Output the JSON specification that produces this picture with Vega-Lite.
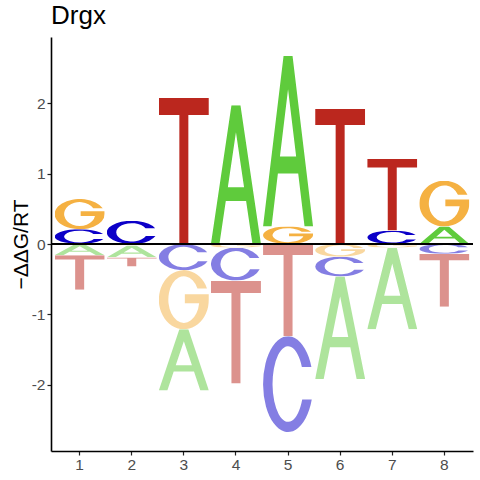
{
  "$schema": "https://vega.github.io/schema/vega-lite/v6.json",
  "width": 422,
  "height": 414,
  "autosize": {"type": "none"},
  "padding": {"left": 51, "top": 37, "right": 7, "bottom": 29},
  "background": "white",
  "config": {"view": {"stroke": null}},
  "title": {"text": "Drgx", "anchor": "start", "frame": "group", "fontSize": 26, "font": "Liberation Sans", "fontWeight": "normal", "color": "black", "offset": 8},
  "datasets": {
    "logo": [
      {"pos": 1, "letter": "C", "lo": 0, "hi": 0.21},
      {"pos": 1, "letter": "G", "lo": 0.21, "hi": 0.64},
      {"pos": 1, "letter": "A", "lo": -0.16, "hi": 0},
      {"pos": 1, "letter": "T", "lo": -0.65, "hi": -0.16},
      {"pos": 2, "letter": "C", "lo": 0, "hi": 0.33},
      {"pos": 2, "letter": "G", "lo": -0.02, "hi": 0},
      {"pos": 2, "letter": "A", "lo": -0.19, "hi": -0.02},
      {"pos": 2, "letter": "T", "lo": -0.32, "hi": -0.19},
      {"pos": 3, "letter": "T", "lo": 0, "hi": 2.08},
      {"pos": 3, "letter": "C", "lo": -0.37, "hi": 0},
      {"pos": 3, "letter": "G", "lo": -1.21, "hi": -0.37},
      {"pos": 3, "letter": "A", "lo": -2.08, "hi": -1.21},
      {"pos": 4, "letter": "A", "lo": 0, "hi": 1.97},
      {"pos": 4, "letter": "G", "lo": -0.05, "hi": 0},
      {"pos": 4, "letter": "C", "lo": -0.52, "hi": -0.05},
      {"pos": 4, "letter": "T", "lo": -1.98, "hi": -0.52},
      {"pos": 5, "letter": "G", "lo": 0, "hi": 0.25},
      {"pos": 5, "letter": "A", "lo": 0.25, "hi": 2.67},
      {"pos": 5, "letter": "T", "lo": -1.31, "hi": 0},
      {"pos": 5, "letter": "C", "lo": -2.67, "hi": -1.31},
      {"pos": 6, "letter": "T", "lo": 0, "hi": 1.92},
      {"pos": 6, "letter": "G", "lo": -0.18, "hi": 0},
      {"pos": 6, "letter": "C", "lo": -0.46, "hi": -0.18},
      {"pos": 6, "letter": "A", "lo": -1.92, "hi": -0.46},
      {"pos": 7, "letter": "C", "lo": 0, "hi": 0.19},
      {"pos": 7, "letter": "T", "lo": 0.19, "hi": 1.21},
      {"pos": 7, "letter": "G", "lo": -0.05, "hi": 0},
      {"pos": 7, "letter": "A", "lo": -1.21, "hi": -0.05},
      {"pos": 8, "letter": "A", "lo": 0, "hi": 0.25},
      {"pos": 8, "letter": "G", "lo": 0.25, "hi": 0.9},
      {"pos": 8, "letter": "C", "lo": -0.14, "hi": 0},
      {"pos": 8, "letter": "T", "lo": -0.89, "hi": -0.14}
    ],
    "glyphs": [
      {"letter": "A", "url": "data:image/svg+xml,<svg xmlns='http://www.w3.org/2000/svg' viewBox='0 0 100 100' preserveAspectRatio='none'><path fill='%235FCB3C' fill-rule='evenodd' d='M0 100L41 0H59L100 100H83L70.3 69H29.7L17 100ZM33.8 59H66.2L50 19.5Z'/></svg>"},
      {"letter": "C", "url": "data:image/svg+xml,<svg xmlns='http://www.w3.org/2000/svg' viewBox='0 0 100 100' preserveAspectRatio='none'><path fill='%230C00C8' d='M96.7 32A50 50 0 1 0 97.4 66H78.3A31 39.5 0 1 1 77.6 32Z'/></svg>"},
      {"letter": "G", "url": "data:image/svg+xml,<svg xmlns='http://www.w3.org/2000/svg' viewBox='0 0 100 100' preserveAspectRatio='none'><path fill='%23F5B142' d='M96.2 31A50 50 0 1 0 100 50V41H52V56H80.6A31 39.5 0 1 1 77.2 31Z'/></svg>"},
      {"letter": "T", "url": "data:image/svg+xml,<svg xmlns='http://www.w3.org/2000/svg' viewBox='0 0 100 100' preserveAspectRatio='none'><path fill='%23BB271E' d='M0 0H100V12H59V100H41V12H0Z'/></svg>"}
    ]
  },
  "data": {"name": "logo"},
  "transform": [
    {"lookup": "letter", "from": {"data": {"name": "glyphs"}, "key": "letter", "fields": ["url"]}}
  ],
  "layer": [
    {
      "mark": {"type": "image", "aspect": false},
      "encoding": {
        "x": {
          "field": "pos", "type": "ordinal",
          "scale": {"paddingInner": 0.04, "paddingOuter": 0.07},
          "axis": {"title": null, "labelAngle": 0, "labelFontSize": 15.5, "labelColor": "#4D4D4D", "labelFont": "Liberation Sans", "labelPadding": 2, "tickColor": "#222222", "tickSize": 4, "tickWidth": 1.2, "domainColor": "black", "domainWidth": 1.6, "grid": false}
        },
        "y": {
          "field": "lo", "type": "quantitative",
          "scale": {"domain": [-2.94, 2.94], "nice": false, "zero": false},
          "axis": {"values": [-2, -1, 0, 1, 2], "format": "d", "labelExpr": "replace(datum.label, '−', '-')", "title": "−ΔΔG/RT", "titleFontSize": 21, "titleFont": "Liberation Sans", "titleFontWeight": "normal", "titleColor": "black", "titlePadding": 0, "labelFontSize": 15.5, "labelColor": "#4D4D4D", "labelFont": "Liberation Sans", "labelPadding": 2, "tickColor": "#222222", "tickSize": 4, "tickWidth": 1.2, "domainColor": "black", "domainWidth": 1.6, "grid": false}
        },
        "y2": {"field": "hi"},
        "url": {"field": "url", "type": "nominal"},
        "opacity": {"condition": {"test": "datum.hi <= 0", "value": 0.5}, "value": 1},
        "tooltip": [
          {"field": "pos", "type": "ordinal", "title": "Position"},
          {"field": "letter", "type": "nominal", "title": "Base"},
          {"field": "lo", "type": "quantitative"},
          {"field": "hi", "type": "quantitative"}
        ]
      }
    },
    {
      "mark": {"type": "rule", "color": "black", "strokeWidth": 1},
      "encoding": {"y": {"datum": 0}}
    }
  ]
}
